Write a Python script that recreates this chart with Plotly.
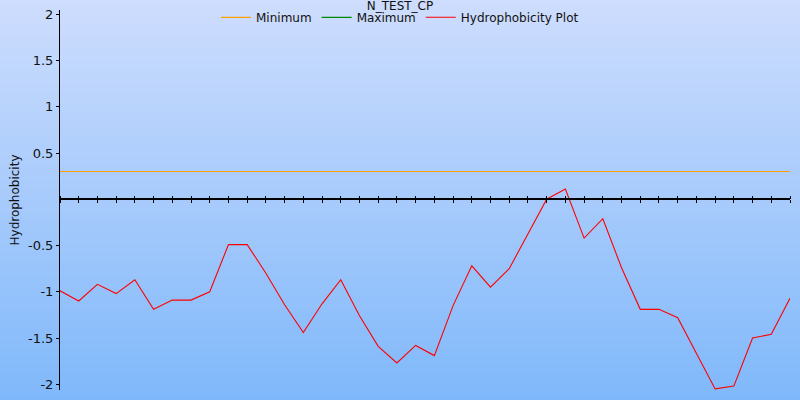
import plotly.graph_objects as go

title_text = "N_TEST_CP"
y_title = "Hydrophobicity"
positions = list(range(40))
hydrophobicity = [-0.99, -1.10, -0.92, -1.02, -0.87, -1.19, -1.09, -1.09, -1.00, -0.49,
                  -0.49, -0.80, -1.14, -1.44, -1.13, -0.87, -1.26, -1.59, -1.77, -1.58,
                  -1.69, -1.15, -0.72, -0.95, -0.75, -0.37, 0.00, 0.11, -0.42, -0.21,
                  -0.74, -1.19, -1.19, -1.28, -1.66, -2.05, -2.02, -1.50, -1.46, -1.07]
minimum_value = 0.30
minimum_x = [0, 39]
minimum_y = [minimum_value, minimum_value]
maximum_x = [0, 39]
maximum_y = [None, None]
y_tickvals = [-2, -1.5, -1, -0.5, 0.5, 1, 1.5, 2]
y_ticktext = ["-2", "-1.5", "-1", "-0.5", "0.5", "1", "1.5", "2"]

FONT = "DejaVu Sans"

fig = go.Figure()
fig.add_trace(go.Scatter(x=minimum_x, y=minimum_y, mode="lines", name="Minimum",
                         line=dict(color="#ffa000", width=1.2)))
fig.add_trace(go.Scatter(x=maximum_x, y=maximum_y, mode="lines", name="Maximum",
                         line=dict(color="#008800", width=1.2), showlegend=True))
fig.add_trace(go.Scatter(x=positions, y=hydrophobicity, mode="lines", name="Hydrophobicity Plot",
                         line=dict(color="#ff0000", width=1.1)))

# background gradient strips (paper coords covering whole figure)
W, H = 800, 400
ml, mr, mt, mb = 60, 10, 10, 10
pw, ph = W - ml - mr, H - mt - mb
top = (206, 221, 253)
bot = (127, 184, 250)
n = 100
shapes = []
for k in range(n):
    t = (k + 0.5) / n
    c = tuple(round(top[j] + (bot[j] - top[j]) * t) for j in range(3))
    py0 = H * k / n
    py1 = H * (k + 1) / n + 0.6
    shapes.append(dict(type="rect", xref="paper", yref="paper",
                       x0=-ml / pw, x1=(W - ml) / pw,
                       y0=(H - mb - py1) / ph, y1=(H - mb - py0) / ph,
                       fillcolor="rgb(%d,%d,%d)" % c, line=dict(width=0), layer="below"))

yr = [-2.062, 2.046]
zero_pos = (0 - yr[0]) / (yr[1] - yr[0])

fig.update_layout(
    width=W, height=H,
    margin=dict(l=ml, r=mr, t=mt, b=mb, autoexpand=False),
    paper_bgcolor="rgba(0,0,0,0)",
    plot_bgcolor="rgba(0,0,0,0)",
    shapes=shapes,
    font=dict(family=FONT, size=12, color="#111111"),
    title=dict(text=title_text, x=0.5, xref="container", xanchor="center",
               y=0.985, yref="container", yanchor="middle",
               font=dict(family=FONT, size=12, color="#111111")),
    legend=dict(orientation="h", x=0.5, xref="container", xanchor="center",
                y=0.993, yref="container", yanchor="top",
                bgcolor="rgba(0,0,0,0)", font=dict(family=FONT, size=12, color="#111111"),
                itemwidth=30, tracegroupgap=0),
    xaxis=dict(range=[0, 39], anchor="free", position=zero_pos,
               showgrid=False, zeroline=False, showline=True, linecolor="black", linewidth=1.5,
               ticks="outside", ticklen=3, tickwidth=1, tickcolor="black", dtick=1, tick0=0,
               showticklabels=False),
    xaxis2=dict(range=[0, 39], matches="x", overlaying="x", side="top", anchor="free",
                position=zero_pos, showgrid=False, zeroline=False, showline=False,
                ticks="outside", ticklen=3, tickwidth=1, tickcolor="black", dtick=1, tick0=0,
                showticklabels=False),
    yaxis=dict(range=yr, showgrid=False, zeroline=False, showline=True, linecolor="black",
               linewidth=1, ticks="outside", ticklen=3, tickcolor="black",
               tickvals=y_tickvals, ticktext=y_ticktext,
               tickfont=dict(family=FONT, size=13, color="#111111"),
               title=dict(text=y_title, standoff=5, font=dict(family=FONT, size=12, color="#111111"))),
)
fig.add_trace(go.Scatter(x=[positions[0]], y=[hydrophobicity[0]], xaxis="x2", mode="markers",
                         marker=dict(opacity=0), showlegend=False, hoverinfo="skip"))

fig.write_html("out.html", config={"displayModeBar": False},
               post_script="document.body.style.margin='0';document.body.style.padding='0';")
